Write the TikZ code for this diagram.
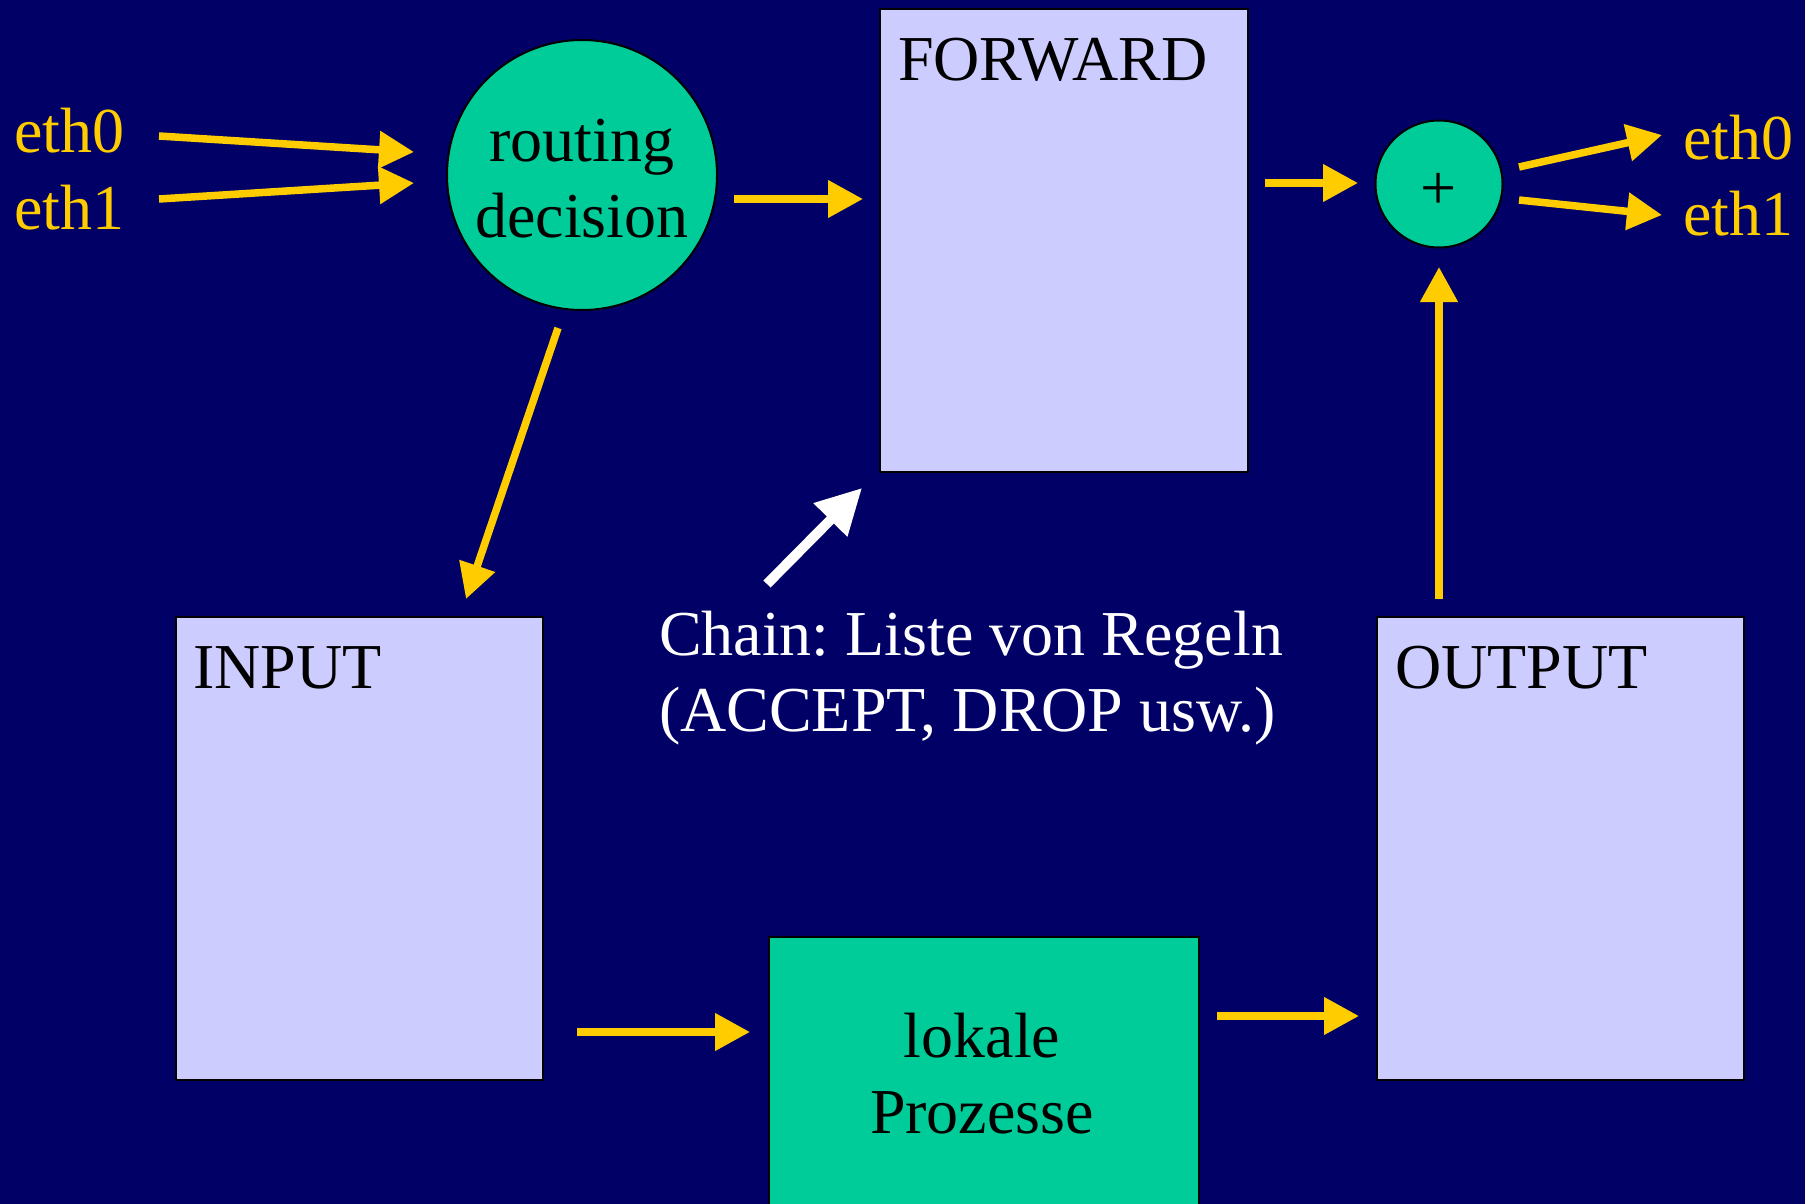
\documentclass[tikz,border=0pt]{standalone}
\usepackage{fontspec}
\setmainfont{Liberation Serif}
\usetikzlibrary{arrows.meta,calc}
\definecolor{bg}{RGB}{0,0,102}
\definecolor{lav}{RGB}{204,204,255}
\definecolor{grn}{RGB}{0,204,153}
\definecolor{gold}{RGB}{255,204,0}
\frenchspacing
\begin{document}
\begin{tikzpicture}[x=1pt,y=-1pt,
  txt/.style={font=\fontsize{64}{75}\selectfont, inner sep=0pt, outer sep=0pt},
  chainbox/.style={draw=black, line width=2pt, fill=lav, anchor=north west, inner sep=0pt, minimum width=367pt, minimum height=463pt},
  greenbox/.style={draw=black, line width=2pt, fill=grn, anchor=north west, inner sep=0pt},
  greencirc/.style={circle, draw=black, line width=2pt, fill=grn, inner sep=0pt},
  arr/.style={draw=gold, line width=7.5pt, -{Triangle[length=35pt,width=36pt]}},
  warr/.style={draw=white, line width=10pt, -{Triangle[length=45pt,width=45pt]}}
]
\fill[bg] (0,0) rectangle (1805,1204);
\useasboundingbox (0,0) rectangle (1805,1204);
\clip (0,0) rectangle (1805,1204);

% boxes
\node[chainbox, minimum width=368pt] (fw) at (879,8) {};
\node[chainbox] (in) at (175,616) {};
\node[chainbox] (out) at (1376,616) {};
\node[greenbox, minimum width=430pt, minimum height=300pt] (lok) at (768,936) {};

% circles
\node[greencirc, minimum size=270pt] (rd) at (582,175) {};
\node[greencirc, minimum size=127pt] (plus) at (1439,184) {};

% texts
\node[txt, anchor=base west] (fwt) at (898,81) {FORWARD};
\node[txt, anchor=base west] (int) at (193,688) {INPUT};
\node[txt, anchor=base west] (outt) at (1395,688) {OUTPUT};
\node[txt, anchor=base] (rdt1) at (582,161) {routing};
\node[txt, anchor=base] (rdt2) at (582,237) {decision};
\node[txt, anchor=base] (lokt1) at (982,1057) {lokale};
\node[txt, anchor=base] (lokt2) at (982,1133) {Prozesse};
\node[txt] (plust) at (1439,191) {+};
\node[txt, anchor=base west, text=white] (ch1) at (659,655) {Chain: Liste von Regeln};
\node[txt, anchor=base west, text=white] (ch2) at (659,731) {(ACCEPT, DROP usw.)};
\node[txt, anchor=base west, text=gold] (e0l) at (14,153) {eth0};
\node[txt, anchor=base west, text=gold] (e1l) at (14,229) {eth1};
\node[txt, anchor=base west, text=gold] (e0r) at (1683,160) {eth0};
\node[txt, anchor=base west, text=gold] (e1r) at (1683,235) {eth1};

% connectors
\draw[arr] ([shift={(145,-17)}]e0l.base west) -- ([shift={(-168,-23)}]rd.center);
\draw[arr] ([shift={(145,-30)}]e1l.base west) -- ([shift={(-168,8)}]rd.center);
\draw[arr] ([shift={(152,24)}]rd.center) -- ([shift={(-16,191)}]fw.north west);
\draw[arr] ([shift={(-24,153)}]rd.center) -- ([shift={(291,-17)}]in.north west);
\draw[arr] ([shift={(33,416)}]in.north east) -- ([shift={(-18,96)}]lok.north west);
\draw[arr] ([shift={(17,80)}]lok.north east) -- ([shift={(-17,400)}]out.north west);
\draw[arr] ([shift={(0,415)}]plus.center) -- ([shift={(0,83)}]plus.center);
\draw[arr] ([shift={(16,175)}]fw.north east) -- ([shift={(-81,-1)}]plus.center);
\draw[arr] ([shift={(80,-17)}]plus.center) -- ([shift={(-21,-25)}]e0r.base west);
\draw[arr] ([shift={(80,16)}]plus.center) -- ([shift={(-21,-20)}]e1r.base west);
\draw[warr] ([shift={(108,-71)}]ch1.base west) -- ([shift={(-17,480)}]fw.north west);
\end{tikzpicture}
\end{document}
